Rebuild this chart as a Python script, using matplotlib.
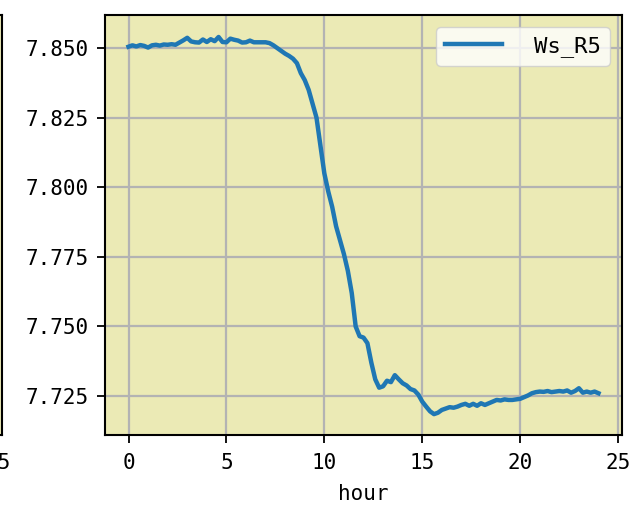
import numpy as np
import matplotlib
matplotlib.use("Agg")
import matplotlib.pyplot as plt

# ---- data ----
series_label = "Ws_R5"
x_label = "hour"
xticks = [0, 5, 10, 15, 20, 25]
yticks = [7.725, 7.750, 7.775, 7.800, 7.825, 7.850]

ws_r5 = [
    7.8505, 7.8510, 7.8506, 7.8511, 7.8508, 7.8502, 7.8510, 7.8512, 7.8509, 7.8513,  # 0.0-1.8
    7.8512, 7.8514, 7.8512, 7.8520, 7.8528, 7.8537, 7.8524, 7.8521, 7.8520, 7.8531,  # 2.0-3.8
    7.8522, 7.8532, 7.8525, 7.8540, 7.8522, 7.8521, 7.8534, 7.8530, 7.8527, 7.8520,  # 4.0-5.8
    7.8521, 7.8527, 7.8521, 7.8521, 7.8521, 7.8521, 7.8518, 7.8510, 7.8500, 7.8490,  # 6.0-7.8
    7.8480, 7.8472, 7.8462, 7.8446, 7.8410, 7.8385, 7.8350, 7.8300, 7.8250, 7.8150,  # 8.0-9.8
    7.8050, 7.7985, 7.7930, 7.7860, 7.7810, 7.7760, 7.7700, 7.7620, 7.7500, 7.7465,  # 10.0-11.8
    7.7460, 7.7440, 7.7370, 7.7310, 7.7280, 7.7285, 7.7305, 7.7300, 7.7325, 7.7310,  # 12.0-13.8
    7.7296, 7.7288, 7.7275, 7.7270, 7.7255, 7.7230, 7.7212, 7.7195, 7.7185, 7.7190,  # 14.0-15.8
    7.7200, 7.7205, 7.7210, 7.7208, 7.7212, 7.7218, 7.7222, 7.7215, 7.7222, 7.7215,  # 16.0-17.8
    7.7224, 7.7218, 7.7224, 7.7230, 7.7236, 7.7234, 7.7238, 7.7236, 7.7236, 7.7238,  # 18.0-19.8
    7.7240, 7.7246, 7.7252, 7.7260, 7.7264, 7.7266, 7.7265, 7.7268, 7.7264, 7.7266,  # 20.0-21.8
    7.7268, 7.7266, 7.7270, 7.7262, 7.7268, 7.7278, 7.7262, 7.7266, 7.7262, 7.7266,  # 22.0-23.8
    7.7260,                                                                          # 24.0
]
hours = [round(i * 0.2, 1) for i in range(len(ws_r5))]
y_limits = (7.7110, 7.8619)

# ---- styling ----
FONT = ["DejaVu Sans Mono", "Liberation Mono"]
FS = 15
FACE = "#EBEAB5"

plt.rcParams["font.family"] = FONT
plt.rcParams["font.size"] = FS

fig = plt.figure(figsize=(6.42, 5.19), dpi=100)
L, R = 105 / 642, 622 / 642
B, T = (519 - 435) / 519, (519 - 15) / 519
W, H = R - L, T - B

# neighbouring subplot (only its right edge is visible)
ax0 = fig.add_axes([2 / 642 - W, B, W, H])
ax0.set_facecolor(FACE)
ax0.plot(hours, ws_r5, color="#1f77b4", lw=3.2)
ax0.set_xticks([25])
ax0.set_yticks([])

ax = fig.add_axes([L, B, W, H])
ax.set_facecolor(FACE)
ax.plot(hours, ws_r5, color="#1f77b4", lw=3.2, label=series_label)
ax.set_xticks(xticks)
ax.set_yticks(yticks)
ax.set_ylim(*y_limits)
ax.set_yticklabels([f"{v:.3f}" for v in yticks])
ax.grid(True, color="#b3b3b3", lw=1.6)
ax.set_axisbelow(True)
ax.set_xlabel(x_label, labelpad=8)

for a in (ax0, ax):
    for s in a.spines.values():
        s.set_linewidth(1.5)
    a.tick_params(length=6, width=1.3, pad=7, labelsize=FS)
ax.tick_params(axis="y", pad=6)

leg = ax.legend(loc="upper right", fontsize=16, handlelength=2.55, handletextpad=1.45,
                fancybox=True, framealpha=0.8, borderaxespad=0.55, borderpad=0.4)
leg.get_frame().set_edgecolor("#cccccc")

fig.savefig("out.png", dpi=100)
